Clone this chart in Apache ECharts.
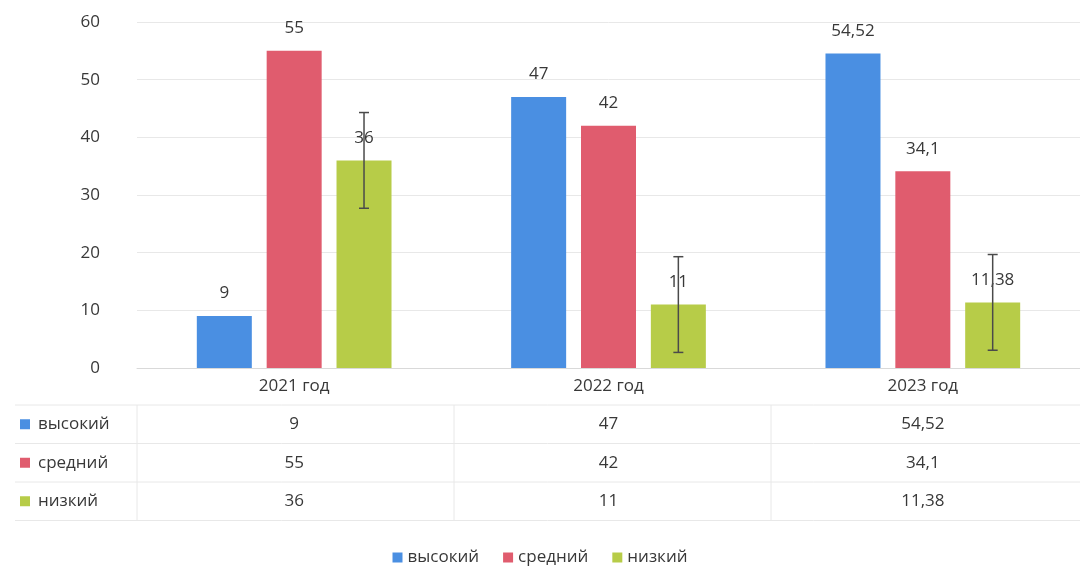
<!DOCTYPE html>
<html>
<head>
<meta charset="utf-8">
<script src="https://cdn.jsdelivr.net/npm/echarts@6/dist/echarts.min.js"></script>
<style>
  html, body { margin: 0; padding: 0; background: #fff; }
  #chart { width: 1080px; height: 573px; }
</style>
</head>
<body>
<div id="chart"></div>
<script>
// данные
var years = ["2021 год", "2022 год", "2023 год"];
var seriesNames = ["высокий", "средний", "низкий"];
var high = [9, 47, 54.52];
var mid = [55, 42, 34.1];
var low = [36, 11, 11.38];
var lowErr = [8.3, 8.3, 8.3];

var colors = ["#4a8fe2", "#e05c6e", "#b7cc48"];
var textColor = "#383838";
var font = "'Open Sans', 'Liberation Sans', sans-serif";
var fs = 17;
var lineColor = "#e8e8e8";

// размеры
var gridLeft = 137, gridRight = -8, gridTop = 22, gridBottom = 205;
var barW = 55, gapPct = 27;

function fmt(v) {
  return String(v).replace(".", ",");
}

var chart = echarts.init(document.getElementById("chart"));

var allRows = [high, mid, low];
var rowOffsets = [38, 77, 115];

var xAxes = [
  {
    type: "category",
    data: years,
    axisLine: { lineStyle: { color: "#d9d9d9" } },
    axisTick: { show: false },
    axisLabel: { color: textColor, fontSize: fs, fontFamily: font, margin: 10 },
  },
];
allRows.forEach(function (row, i) {
  xAxes.push({
    type: "category",
    position: "bottom",
    offset: rowOffsets[i],
    data: row.map(fmt),
    axisLine: { show: false },
    axisTick: { show: false },
    axisLabel: { color: textColor, fontSize: fs, fontFamily: font, margin: 10 },
  });
});

var barSeries = [high, mid, low].map(function (d, i) {
  return {
    name: seriesNames[i],
    type: "bar",
    data: d,
    barWidth: barW,
    barGap: gapPct + "%",
    itemStyle: { color: colors[i] },
    label: {
      show: true,
      position: "top",
      distance: 14,
      color: textColor,
      fontSize: fs,
      fontFamily: font,
      formatter: function (p) {
        return fmt(p.value);
      },
    },
    z: 2,
  };
});

// усы погрешности для "низкий"
var errSeries = {
  type: "custom",
  name: "err",
  data: low.map(function (v, i) {
    return [i, v - lowErr[i], v + lowErr[i]];
  }),
  renderItem: function (params, api) {
    var off = barW * (1 + gapPct / 100);
    var lo = api.coord([api.value(0), api.value(1)]);
    var hi = api.coord([api.value(0), api.value(2)]);
    var x = lo[0] + off;
    var cap = 5;
    var st = { stroke: "#4a4a4a", lineWidth: 1.5 };
    return {
      type: "group",
      children: [
        { type: "line", shape: { x1: x, y1: lo[1], x2: x, y2: hi[1] }, style: st },
        { type: "line", shape: { x1: x - cap, y1: lo[1], x2: x + cap, y2: lo[1] }, style: st },
        { type: "line", shape: { x1: x - cap, y1: hi[1], x2: x + cap, y2: hi[1] }, style: st },
      ],
    };
  },
  encode: { x: 0, y: [1, 2] },
  z: 5,
};

// линии таблицы и заголовки строк
var graphics = [];
var tableTop = 405, rowH = 38.5, tableLeft = 15;
for (var r = 0; r <= 3; r++) {
  graphics.push({
    type: "line",
    shape: { x1: tableLeft, y1: tableTop + r * rowH, x2: 1080, y2: tableTop + r * rowH },
    style: { stroke: lineColor, lineWidth: 1 },
  });
}
var bandW = (1080 - gridLeft - gridRight) / years.length;
for (var c = 0; c < years.length; c++) {
  var vx = gridLeft + c * bandW;
  graphics.push({
    type: "line",
    shape: { x1: vx, y1: tableTop, x2: vx, y2: tableTop + 3 * rowH },
    style: { stroke: lineColor, lineWidth: 1 },
  });
}
seriesNames.forEach(function (name, i) {
  var cy = tableTop + rowH * i + rowH / 2;
  graphics.push({
    type: "rect",
    shape: { x: 20, y: cy - 5, width: 10, height: 10 },
    style: { fill: colors[i] },
  });
  graphics.push({
    type: "text",
    x: 38,
    y: cy,
    style: {
      text: name,
      fill: textColor,
      font: fs + "px " + font,
      textVerticalAlign: "middle",
    },
  });
});

var option = {
  animation: false,
  backgroundColor: "#fff",
  color: colors,
  grid: { left: gridLeft, right: gridRight, top: gridTop, bottom: gridBottom, containLabel: false },
  legend: {
    data: seriesNames,
    bottom: 2,
    left: "center",
    icon: "rect",
    itemWidth: 10,
    itemHeight: 10,
    itemGap: 24,
    textStyle: { color: textColor, fontSize: fs, fontFamily: font },
  },
  xAxis: xAxes,
  yAxis: {
    type: "value",
    min: 0,
    max: 60,
    interval: 10,
    axisLine: { show: false },
    axisTick: { show: false },
    splitLine: { lineStyle: { color: lineColor } },
    axisLabel: { color: textColor, fontSize: fs, fontFamily: font, margin: 37 },
  },
  series: barSeries.concat([errSeries]),
  graphic: graphics,
};

chart.setOption(option);
</script>
</body>
</html>
